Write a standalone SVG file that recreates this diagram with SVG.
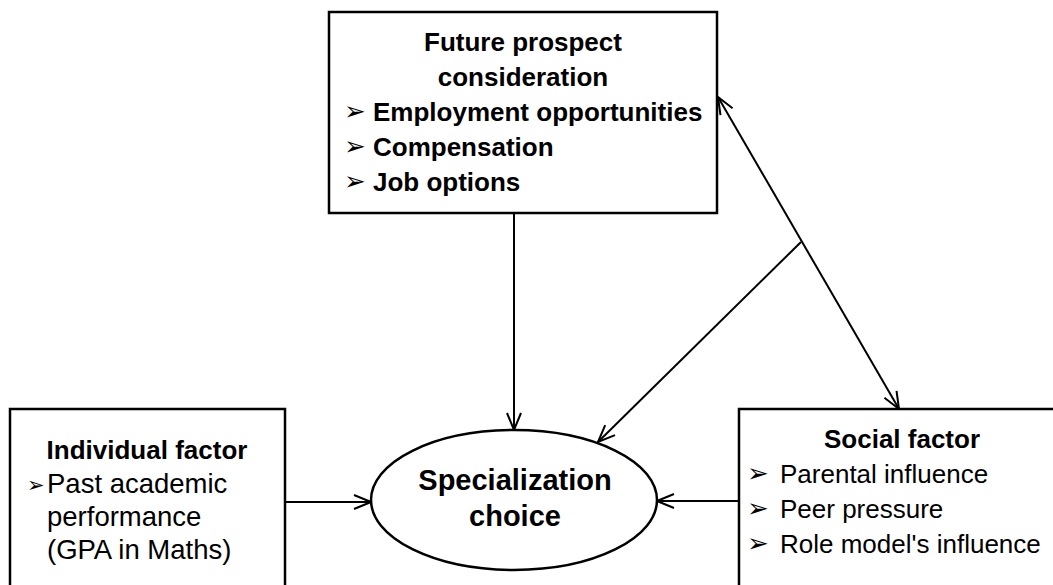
<svg xmlns="http://www.w3.org/2000/svg" width="1053" height="585" viewBox="0 0 1053 585">
  <style>
    .box { fill: #fff; stroke: #000; stroke-width: 2.5; }
    .edge { fill: none; stroke: #000; stroke-width: 2; }
    .t { font-family: "Liberation Sans", Arial, sans-serif; fill: #000; }
    .b { font-weight: bold; }
    .bul { font-family: "DejaVu Sans", sans-serif; fill: #000; }
  </style>
  <defs>
    <marker id="arr" viewBox="0 0 20 20" refX="19" refY="10" markerWidth="20" markerHeight="20" markerUnits="userSpaceOnUse" orient="auto-start-reverse">
      <path d="M2,3 L19,10 L2,17" fill="none" stroke="#000" stroke-width="2"/>
    </marker>
  </defs>

  <g id="connectors">
    <line class="edge" x1="514" y1="213" x2="514" y2="430" marker-end="url(#arr)"/>
    <line class="edge" x1="285" y1="502" x2="371" y2="502" marker-end="url(#arr)"/>
    <line class="edge" x1="739" y1="501" x2="657" y2="501" marker-end="url(#arr)"/>
    <line class="edge" x1="718" y1="97" x2="899" y2="409" marker-start="url(#arr)" marker-end="url(#arr)"/>
    <line class="edge" x1="801" y1="242" x2="598" y2="442" marker-end="url(#arr)"/>
  </g>

  <g id="future">
    <rect class="box" x="329" y="12" width="388" height="201"/>
    <text class="t b" x="523" y="51" font-size="26" text-anchor="middle">Future prospect</text>
    <text class="t b" x="523" y="86" font-size="26" text-anchor="middle">consideration</text>
    <text class="bul" x="344" y="120" font-size="26">➢</text>
    <text class="t b" x="373" y="121" font-size="26">Employment opportunities</text>
    <text class="bul" x="344" y="155" font-size="26">➢</text>
    <text class="t b" x="373" y="156" font-size="26">Compensation</text>
    <text class="bul" x="344" y="190" font-size="26">➢</text>
    <text class="t b" x="373" y="191" font-size="26">Job options</text>
  </g>

  <g id="individual">
    <rect class="box" x="10" y="409" width="275" height="190"/>
    <text class="t b" x="147" y="459" font-size="26" text-anchor="middle">Individual factor</text>
    <text class="bul" x="27" y="492" font-size="21">➢</text>
    <text class="t" x="47" y="493" font-size="27.5">Past academic</text>
    <text class="t" x="47" y="526" font-size="27.5">performance</text>
    <text class="t" x="47" y="559" font-size="27.5">(GPA in Maths)</text>
  </g>

  <g id="social">
    <rect class="box" x="739" y="409" width="330" height="190"/>
    <text class="t b" x="902" y="448" font-size="26" text-anchor="middle">Social factor</text>
    <text class="bul" x="747" y="482" font-size="26">➢</text>
    <text class="t" x="780" y="483" font-size="26">Parental influence</text>
    <text class="bul" x="747" y="517" font-size="26">➢</text>
    <text class="t" x="780" y="518" font-size="26">Peer pressure</text>
    <text class="bul" x="747" y="552" font-size="26">➢</text>
    <text class="t" x="780" y="553" font-size="26">Role model's influence</text>
  </g>

  <g id="choice">
    <ellipse class="box" cx="514" cy="500" rx="143" ry="70"/>
    <text class="t b" x="515" y="490" font-size="29" text-anchor="middle">Specialization</text>
    <text class="t b" x="515" y="526" font-size="29" text-anchor="middle">choice</text>
  </g>
</svg>
